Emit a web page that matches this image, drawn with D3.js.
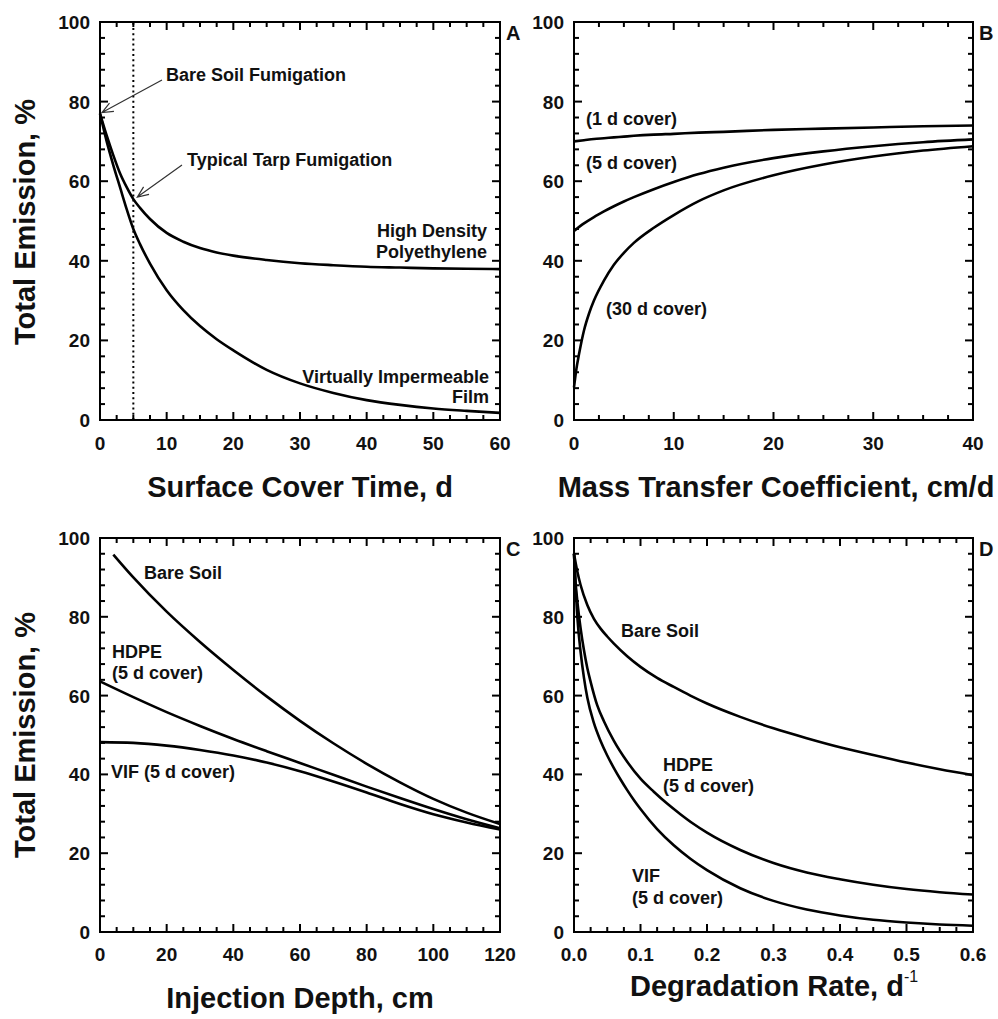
<!DOCTYPE html>
<html>
  <head>
    <meta charset="utf-8">
    <title></title>
  </head>
  <style>
    body{ margin: 0; background-color: #fff; }
  </style>
  <script src="https://d3js.org/d3.v7.min.js"></script>
  <body>
    <script>
    // A: surface cover time
    const timeA = [0, 1, 2, 3, 4, 5, 6, 7.5, 10, 12.5, 15, 17.5, 20, 25, 30, 35, 40, 45, 50, 55, 60]
    const hdpeA = [77, 71.5, 66.5, 62, 58.5, 55.5, 53.3, 50.5, 47, 44.8, 43.2, 42.1, 41.3, 40.2, 39.4, 38.9, 38.5, 38.3, 38.1, 38, 37.9]
    const vifA  = [77, 70, 64, 58.5, 53, 48, 44.2, 39.3, 32.6, 27.6, 23.6, 20.3, 17.5, 12.6, 9.2, 6.8, 5, 3.8, 2.9, 2.3, 1.8]

    // B: mass transfer coefficient
    const mtcB     = [0, 1, 2, 3, 4, 5, 6, 8, 10, 12.5, 15, 20, 25, 30, 35, 40]
    const cover1B  = [70, 70.3, 70.6, 70.8, 71, 71.2, 71.4, 71.7, 71.9, 72.2, 72.4, 72.9, 73.2, 73.5, 73.8, 74]
    const cover5B  = [47.5, 49.4, 51, 52.4, 53.7, 54.9, 56, 58, 59.8, 61.8, 63.4, 65.8, 67.5, 68.8, 69.8, 70.5]
    const mtc30B   = [0, 0.25, 0.5, 1, 1.5, 2, 3, 4, 5, 6, 8, 10, 12.5, 15, 20, 25, 30, 35, 40]
    const cover30B = [8.2, 13, 16.5, 22.5, 26.7, 30, 35, 39, 42, 44.5, 48.3, 51.5, 55, 57.7, 61.5, 64.2, 66.2, 67.7, 68.8]

    // C: injection depth
    const depthC     = [0, 10, 20, 30, 40, 50, 60, 70, 80, 90, 100, 110, 120]
    const depthBareC = [4, 10, 20, 30, 40, 50, 60, 70, 80, 90, 100, 110, 120]
    const bareC = [95.8, 90, 81.3, 73.6, 66.5, 59.8, 53.6, 47.9, 42.7, 38, 33.8, 30.3, 27.4]
    const hdpeC = [63.6, 59.6, 55.8, 52.3, 49, 45.9, 42.9, 39.9, 36.9, 34, 31.2, 28.6, 26.3]
    const vifC  = [48.2, 48, 47.3, 46.2, 44.8, 43, 40.8, 38.2, 35.4, 32.5, 29.9, 27.8, 26]

    // D: degradation rate
    const rateBareD = [0, 0.005, 0.01, 0.02, 0.03, 0.04, 0.05, 0.06, 0.08, 0.1, 0.125, 0.15, 0.175, 0.2, 0.25, 0.3, 0.35, 0.4, 0.45, 0.5, 0.55, 0.6]
    const bareD     = [96, 91.5, 88, 83, 79.5, 77, 75, 73.2, 70, 67.3, 64.5, 62.2, 60, 58, 54.6, 51.7, 49.2, 46.9, 44.9, 43, 41.3, 39.8]
    const rateHdpeD = [0, 0.0025, 0.005, 0.01, 0.015, 0.02, 0.025, 0.035, 0.045, 0.06, 0.08, 0.1, 0.12, 0.14, 0.16, 0.18, 0.2, 0.25, 0.3, 0.35, 0.4, 0.45, 0.5, 0.55, 0.6]
    const hdpeD     = [96, 88.5, 84, 77, 71.5, 67, 63.5, 57.5, 53.5, 48.5, 43.2, 38.9, 35.6, 32.6, 29.9, 27.4, 25.2, 20.8, 17.5, 15.1, 13.4, 12, 10.9, 10.1, 9.5]
    const rateVifD  = [0, 0.005, 0.01, 0.015, 0.02, 0.03, 0.04, 0.05, 0.06, 0.07, 0.08, 0.09, 0.1, 0.125, 0.15, 0.175, 0.2, 0.25, 0.3, 0.35, 0.4, 0.45, 0.5, 0.55, 0.6]
    const vifD      = [96, 80, 71, 64.5, 59.5, 53, 48.5, 44.8, 41.6, 38.7, 36, 33.5, 31.2, 26.1, 22, 18.6, 15.7, 11.1, 7.9, 5.7, 4.2, 3.1, 2.4, 1.9, 1.6]

    const yTicks = [0, 20, 40, 60, 80, 100]
    const FONT = "Liberation Sans, Arial, Helvetica, sans-serif"

    var svg = d3.select("body").append("svg").attr("width", 998).attr("height", 1019)

    function steps(max, step){
      let n = Math.round(max / step)
      let out = []
      for (let i = 0; i <= n; i++) out.push(+(i * step).toFixed(4))
      return out
    }

    function label(parent, t, x, y, size, anchor){
      return parent.append("text")
        .attr("x", x).attr("y", y)
        .attr("font-family", FONT)
        .attr("font-weight", "bold")
        .attr("font-size", size)
        .attr("fill", "#111")
        .attr("text-anchor", anchor || "start")
        .text(t)
    }

    var tickSegs = []
    var panels = []

    function panel(p){
      let w = p.right - p.left, h = p.bottom - p.top
      let g = svg.append("g").attr("transform", "translate(" + p.left + "," + p.top + ")")
      let x = d3.scaleLinear().domain(p.xDomain).range([0, w])
      let y = d3.scaleLinear().domain([0, 100]).range([h, 0])

      let xMajor = steps(p.xDomain[1], p.xMajor)
      let xMinor = steps(p.xDomain[1], p.xMinor).filter(function(v){
        return xMajor.every(function(m){ return Math.abs(m - v) > 1e-6 })
      })
      let yMinor = steps(100, 4).filter(function(v){ return v % 20 != 0 })

      xMinor.forEach(function(v){ tickSegs.push(["x", p, p.left + x(v), 5]) })
      xMajor.forEach(function(v){ tickSegs.push(["x", p, p.left + x(v), 8]) })
      yMinor.forEach(function(v){ tickSegs.push(["y", p, p.top + y(v), 5]) })
      yTicks.forEach(function(v){ tickSegs.push(["y", p, p.top + y(v), 8]) })

      // tick labels
      xMajor.forEach(function(v){
        label(g, p.xFormat(v), x(v), h + p.xPad, "19px", "middle")
      })
      yTicks.forEach(function(v){
        label(g, String(v), -10, y(v) + 7, "19px", "end")
      })

      let line = d3.line()
        .x(function(d){ return x(d[0]) })
        .y(function(d){ return y(d[1]) })
        .curve(d3.curveMonotoneX)

      p.series.forEach(function(s){
        let pts = s.x.map(function(v, i){ return [v, s.y[i]] })
        g.append("path").attr("d", line(pts))
         .attr("fill", "none").attr("stroke", "#000").attr("stroke-width", 2.6)
      })

      p.labels.forEach(function(l){ label(g, l[0], l[1], l[2], "18px", l[3]) })
      label(g, p.letter, w + 6, 18, "20px")

      panels.push(p)
      return {g: g, x: x, y: y}
    }

    let A = panel({
      left: 100, right: 500, top: 22, bottom: 420,
      xDomain: [0, 60], xMajor: 10, xMinor: 2.5, xPad: 30, xFormat: d3.format("d"),
      letter: "A",
      series: [{x: timeA, y: hdpeA}, {x: timeA, y: vifA}],
      labels: [
        ["Bare Soil Fumigation", 66, 59],
        ["Typical Tarp Fumigation", 87, 144],
        ["High Density", 387, 215, "end"],
        ["Polyethylene", 387, 236, "end"],
        ["Virtually Impermeable", 389, 361, "end"],
        ["Film", 389, 381, "end"]
      ]
    })

    // dotted line at 5 d cover
    A.g.append("line")
     .attr("x1", A.x(5)).attr("x2", A.x(5))
     .attr("y1", A.y(0)).attr("y2", A.y(100))
     .attr("stroke", "#000").attr("stroke-width", 2)
     .attr("stroke-dasharray", "2,3.2")

    // arrows with open heads
    function arrow(x1, y1, x2, y2){
      let a = Math.atan2(y2 - y1, x2 - x1), L = 12, s = 0.4
      A.g.append("path")
       .attr("d", "M" + x1 + "," + y1 + "L" + x2 + "," + y2 +
         "M" + (x2 - L * Math.cos(a - s)) + "," + (y2 - L * Math.sin(a - s)) +
         "L" + x2 + "," + y2 +
         "L" + (x2 - L * Math.cos(a + s)) + "," + (y2 - L * Math.sin(a + s)))
       .attr("fill", "none").attr("stroke", "#333").attr("stroke-width", 1.2)
    }
    arrow(62, 58, A.x(0) + 2, A.y(hdpeA[0]) - 1)
    arrow(82, 143, A.x(5) + 4, A.y(hdpeA[5]) - 2)

    panel({
      left: 574, right: 973, top: 22, bottom: 420,
      xDomain: [0, 40], xMajor: 10, xMinor: 2.5, xPad: 30, xFormat: d3.format("d"),
      letter: "B",
      series: [{x: mtcB, y: cover1B}, {x: mtcB, y: cover5B}, {x: mtc30B, y: cover30B}],
      labels: [
        ["(1 d cover)", 12, 103],
        ["(5 d cover)", 12, 147],
        ["(30 d cover)", 32, 293]
      ]
    })

    panel({
      left: 100, right: 500, top: 538, bottom: 932,
      xDomain: [0, 120], xMajor: 20, xMinor: 5, xPad: 29, xFormat: d3.format("d"),
      letter: "C",
      series: [{x: depthBareC, y: bareC}, {x: depthC, y: hdpeC}, {x: depthC, y: vifC}],
      labels: [
        ["Bare Soil", 44, 41],
        ["HDPE", 12, 120],
        ["(5 d cover)", 12, 141],
        ["VIF (5 d cover)", 11, 240]
      ]
    })

    panel({
      left: 574, right: 973, top: 538, bottom: 932,
      xDomain: [0, 0.6], xMajor: 0.1, xMinor: 0.025, xPad: 29, xFormat: d3.format(".1f"),
      letter: "D",
      series: [{x: rateBareD, y: bareD}, {x: rateHdpeD, y: hdpeD}, {x: rateVifD, y: vifD}],
      labels: [
        ["Bare Soil", 47, 99],
        ["HDPE", 89, 233],
        ["(5 d cover)", 89, 254],
        ["VIF", 58, 344],
        ["(5 d cover)", 58, 366]
      ]
    })

    // axis titles
    function title(t, x, y, rot){
      return svg.append("text")
        .attr("transform", "translate(" + x + "," + y + ")" + (rot ? " rotate(-90)" : ""))
        .attr("text-anchor", "middle")
        .attr("font-family", FONT).attr("font-weight", "bold").attr("fill", "#111")
        .attr("font-size", "29px")
        .text(t)
    }
    title("Total Emission, %", 35, 222, true)
    title("Total Emission, %", 35, 735, true)
    title("Surface Cover Time, d", 300, 497)
    title("Mass Transfer Coefficient, cm/d", 776, 497)
    title("Injection Depth, cm", 300, 1008)

    let deg = svg.append("text")
      .attr("x", 630).attr("y", 996)
      .attr("font-family", FONT).attr("font-weight", "bold").attr("fill", "#111")
      .attr("font-size", "29px")
    deg.append("tspan").text("Degradation Rate, d")
    deg.append("tspan").attr("dy", -14).attr("font-size", "16px").attr("font-weight", "normal").text("-1")

    // frames, then inward tick marks on all four sides
    panels.forEach(function(p){
      svg.append("rect")
         .attr("x", p.left).attr("y", p.top)
         .attr("width", p.right - p.left).attr("height", p.bottom - p.top)
         .attr("fill", "none").attr("stroke", "#000").attr("stroke-width", 2)
    })
    tickSegs.forEach(function(t){
      let p = t[1], v = t[2], len = t[3]
      if (t[0] == "x"){
        svg.append("line").attr("x1", v).attr("x2", v).attr("y1", p.bottom).attr("y2", p.bottom - len)
           .attr("stroke", "#000").attr("stroke-width", 2)
        svg.append("line").attr("x1", v).attr("x2", v).attr("y1", p.top).attr("y2", p.top + len)
           .attr("stroke", "#000").attr("stroke-width", 2)
      } else {
        svg.append("line").attr("x1", p.left).attr("x2", p.left + len).attr("y1", v).attr("y2", v)
           .attr("stroke", "#000").attr("stroke-width", 2)
        svg.append("line").attr("x1", p.right).attr("x2", p.right - len).attr("y1", v).attr("y2", v)
           .attr("stroke", "#000").attr("stroke-width", 2)
      }
    })
    </script>
  </body>
</html>
